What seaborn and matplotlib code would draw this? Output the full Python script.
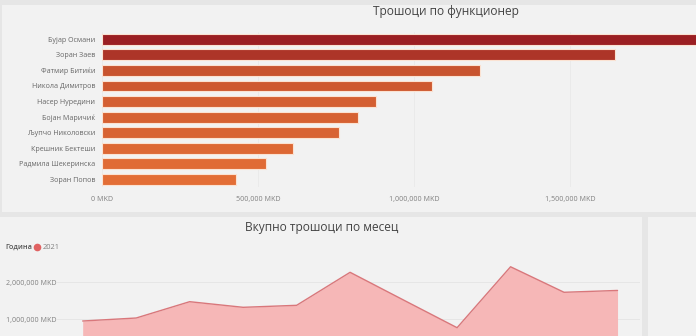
import numpy as np
import pandas as pd
import matplotlib
matplotlib.use("Agg")
import matplotlib.pyplot as plt
import seaborn as sns
from matplotlib.patches import Rectangle
from matplotlib.lines import Line2D
from matplotlib.colors import LinearSegmentedColormap, Normalize
from matplotlib.ticker import FuncFormatter

# ---- data ----
officials = ["Бујар Османи", "Зоран Заев", "Фатмир Битиќи", "Никола Димитров",
             "Насер Нуредини", "Бојан Маричиќ", "Љупчо Николовски",
             "Крешник Бектеши", "Радмила Шекеринска", "Зоран Попов"]
costs = [1950000, 1643000, 1212000, 1058000, 877000, 820000, 761000, 613000, 525000, 429000]

months = [1, 2, 3, 4, 5, 6, 7, 8, 9, 10, 11]
monthly = [954000, 1035000, 1476000, 1324000, 1378000, 2270000, 1520000,
           773000, 2420000, 1730000, 1780000]
year_label = "2021"

x_ticks_top = [0, 500000, 1000000, 1500000]
y_ticks_bottom = [1000000, 2000000]

# ---- figure ----
sns.set_theme(style="white")
plt.rcParams["font.family"] = ["Open Sans", "DejaVu Sans"]

W, H = 696, 336
fig = plt.figure(figsize=(W / 100, H / 100), dpi=100)
fig.patch.set_facecolor("#e6e6e6")

def px_rect(x0, y0, x1, y1, color):
    fig.add_artist(Rectangle((x0 / W, 1 - y1 / H), (x1 - x0) / W, (y1 - y0) / H,
                             transform=fig.transFigure, facecolor=color,
                             edgecolor="none", zorder=-5))

px_rect(2, 5, 696, 212, "#f2f2f2")
px_rect(0, 217, 642, 336, "#f2f2f2")
px_rect(648, 217, 696, 336, "#f2f2f2")

mk = FuncFormatter(lambda v, p: f"{int(v):,} MKD")
tick_color = "#808080"

# ---- top bar chart ----
xs = 156 / 500000.0  # px per unit
ax1 = fig.add_axes([102 / W, (336 - 187.1) / H, (696 - 102) / W, 155.6 / H])
ax1.set_facecolor("none")
cmap = LinearSegmentedColormap.from_list("g", ["#e36e36", "#c9552f", "#9b1f23"])
norm = Normalize(min(costs), max(costs))
pal = [cmap(norm(v)) for v in costs]
df = pd.DataFrame({"name": officials, "cost": costs})
sns.barplot(data=df, x="cost", y="name", hue="name", palette=pal, legend=False,
            width=0.7, edgecolor="#fbe2d2", linewidth=0.8, ax=ax1, saturation=1)
ax1.set_xlim(0, (696 - 102) / xs)
ax1.set_ylim(9.5, -0.5)
ax1.set_xticks(x_ticks_top)
ax1.xaxis.set_major_formatter(mk)
ax1.set_xlabel("")
ax1.set_ylabel("")
ax1.tick_params(axis="x", length=0, pad=6.5, labelsize=5.1, labelcolor=tick_color)
ax1.tick_params(axis="y", length=0, pad=5, labelsize=5.1, labelcolor="#666666")
for s in ax1.spines.values():
    s.set_visible(False)
ax1.grid(axis="x", color="#e9e9e9", linewidth=0.6)
ax1.set_axisbelow(True)
fig.text(446 / W, 1 - 11.7 / H, "Трошоци по функционер", ha="center", va="center",
         fontsize=8.6, color="#444444")

# ---- bottom area chart ----
ymax = 2600000
ax2 = fig.add_axes([57 / W, (336 - 356.3) / H, (640 - 57) / W, (ymax / 1e6 * 37) / H])
ax2.set_facecolor("none")
dm = pd.DataFrame({"month": months, "value": monthly})
ax2.fill_between(dm["month"], dm["value"], 0, color="#f6b7b7", linewidth=0, zorder=2)
sns.lineplot(data=dm, x="month", y="value", color="#d9777b", linewidth=1.0, ax=ax2, zorder=3)
ax2.set_xlim(months[0] - 0.48, months[-1] + 0.42)
ax2.set_ylim(0, ymax)
ax2.set_yticks(y_ticks_bottom)
ax2.yaxis.set_major_formatter(mk)
ax2.set_xticks([])
ax2.set_xlabel("")
ax2.set_ylabel("")
ax2.tick_params(axis="y", length=0, pad=36.7, labelsize=5.1, labelcolor=tick_color)
for lbl in ax2.get_yticklabels():
    lbl.set_horizontalalignment("left")
for s in ax2.spines.values():
    s.set_visible(False)
ax2.grid(axis="y", color="#e4e4e4", linewidth=0.6)
ax2.set_axisbelow(True)
fig.text(322 / W, 1 - 227.3 / H, "Вкупно трошоци по месец", ha="center", va="center",
         fontsize=8.6, color="#444444")

fig.text(5 / W, 1 - 247.7 / H, "Година", ha="left", va="center", fontsize=5.2,
         color="#555555", fontweight="semibold")
handle = Line2D([], [], marker="o", linestyle="none", markersize=5.5,
                markerfacecolor="#e06262", markeredgecolor="none")
fig.legend([handle], [year_label], loc="center left",
           bbox_to_anchor=(33 / W, 1 - 247.7 / H), frameon=False,
           fontsize=5.4, labelcolor="#808080", handletextpad=0.25,
           borderpad=0, borderaxespad=0, handlelength=1.0)

fig.savefig("out.png", dpi=100, facecolor=fig.get_facecolor())
